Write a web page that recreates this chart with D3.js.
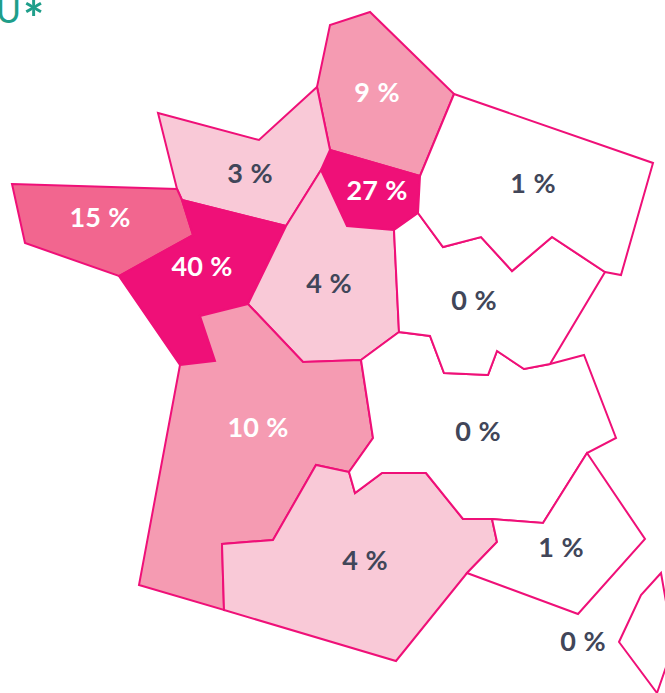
<!DOCTYPE html>
<html>
<head>
<meta charset="utf-8">
<script src="https://cdn.jsdelivr.net/npm/d3@7"></script>
<style>
	html, body { margin: 0; padding: 0; background: #fff; overflow: hidden; }
</style>
</head>
<body>
<div id="chart-area"></div>
<script>
// Regions and share of each one
var regions = ["Nord", "Ile-de-France", "Normandie", "Bretagne", "Pays de la Loire", "Centre",
	"Nouvelle-Aquitaine", "Occitanie", "Auvergne-Rhone-Alpes", "Bourgogne-Franche-Comte",
	"Grand Est", "PACA", "Corse"];
var shares = [9, 27, 3, 15, 40, 4, 10, 4, 0, 0, 1, 1, 0];

// Region outlines
var outlines = [
	[[370,12],[330,25],[317,87],[330,150],[420,176],[454,94]],
	[[330,150],[420,176],[418,213],[394,230],[347,226],[321,170]],
	[[158,113],[259,140],[317,87],[330,150],[321,170],[286,226],[182,200],[177,189]],
	[[12,184],[177,189],[182,200],[193,235],[119,276],[25,243]],
	[[182,200],[286,226],[248,304],[200,316],[215,361],[180,365],[119,276],[193,235]],
	[[321,170],[347,226],[394,230],[399,332],[361,360],[303,362],[248,304],[286,226]],
	[[200,316],[248,304],[303,362],[361,360],[373,438],[349,472],[316,465],[273,540],[222,544],[224,610],[139,585],[180,365],[215,361]],
	[[222,544],[273,540],[316,465],[349,472],[355,493],[382,473],[426,473],[463,519],[492,519],[497,542],[467,573],[396,661],[224,610]],
	[[361,360],[399,332],[430,336],[444,373],[488,375],[497,351],[524,369],[550,364],[584,355],[616,438],[587,453],[543,523],[492,519],[463,519],[426,473],[382,473],[355,493],[349,472],[373,438]],
	[[394,230],[418,213],[443,247],[481,237],[512,271],[552,237],[605,272],[550,364],[524,369],[497,351],[488,375],[444,373],[430,336],[399,332]],
	[[454,94],[653,163],[621,275],[605,272],[552,237],[512,271],[481,237],[443,247],[418,213],[420,176]],
	[[587,453],[645,539],[578,614],[467,573],[497,542],[492,519],[543,523]],
	[[661,573],[641,595],[619,642],[657,693],[672,650],[672,636]]
];

// Label anchors (middle, baseline)
var labelX = [377, 377, 250, 100, 202, 329, 258, 365, 478, 474, 533, 561, 583];
var labelY = [102, 200, 183, 227, 276, 293, 437, 570, 441, 310, 193, 557, 651];

// Canvas Size
var canvasWidth = 665;
var canvasHeight = 693;

var canvas = d3.select("#chart-area")
	.append("svg")
	.attr("width", canvasWidth)
	.attr("height", canvasHeight)
	.style("display", "block");

// Fill by share
var color = d3.scaleThreshold()
	.domain([2, 5, 12, 20])
	.range(["#ffffff", "#f9c9d7", "#f59bb2", "#f2668f", "#ef1078"]);

var textColor = function(v) { return v >= 9 ? "#ffffff" : "#414659"; };

var path = d3.geoPath(d3.geoIdentity());

var features = regions.map(function(name, i) {
	return {
		type: "Feature",
		properties: { name: name, share: shares[i], lx: labelX[i], ly: labelY[i] },
		geometry: { type: "Polygon", coordinates: [outlines[i].concat([outlines[i][0]])] }
	};
});

canvas.append("g")
	.selectAll("path")
	.data(features)
	.enter()
	.append("path")
		.attr("d", path)
		.attr("fill", function(d) { return color(d.properties.share); })
		.attr("stroke", "#ef1078")
		.attr("stroke-width", 2)
		.attr("stroke-linejoin", "miter");

canvas.append("g")
	.selectAll("text")
	.data(features)
	.enter()
	.append("text")
		.attr("x", function(d) { return d.properties.lx; })
		.attr("y", function(d) { return d.properties.ly; })
		.attr("text-anchor", "middle")
		.attr("font-family", "Lato, sans-serif")
		.attr("font-weight", 700)
		.attr("font-size", 27)
		.attr("word-spacing", 1)
		.attr("fill", function(d) { return textColor(d.properties.share); })
		.text(function(d) { return d.properties.share + " %"; });

// Cropped title at the top left corner
var title = canvas.append("text")
	.attr("x", -4)
	.attr("y", 23)
	.attr("font-family", "Lato, sans-serif")
	.attr("font-size", 34)
	.attr("fill", "#1f9e8a")
	.text("U");

title.append("tspan")
	.attr("dx", 2)
	.attr("dy", 14)
	.attr("font-size", 50)
	.attr("font-weight", 700)
	.text("*");
</script>
</body>
</html>
